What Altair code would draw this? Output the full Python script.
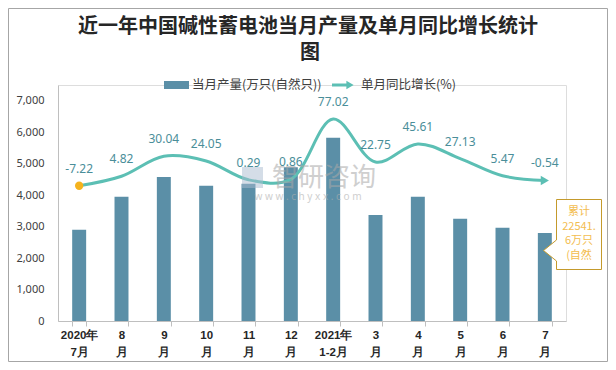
import altair as alt
import pandas as pd

months = ["2020年|7月", "8|月", "9|月", "10|月", "11|月", "12|月",
          "2021年|1-2月", "3|月", "4|月", "5|月", "6|月", "7|月"]
output = [2900, 3950, 4580, 4300, 4360, 4890, 5820, 3370, 3950, 3250, 2960, 2800]
growth = [-7.22, 4.82, 30.04, 24.05, 0.29, 0.86, 77.02, 22.75, 45.61, 27.13, 5.47, -0.54]
growth_labels = ["-7.22", "4.82", "30.04", "24.05", "0.29", "0.86", "77.02",
                 "22.75", "45.61", "27.13", "5.47", "-0.54"]

title_line1 = "近一年中国碱性蓄电池当月产量及单月同比增长统计"
title_line2 = "图"
legend_bar = "当月产量(万只(自然只))"
legend_line = "单月同比增长(%)"
callout_lines = ["累计", "22541.", "6万只", "(自然"]
y_ticks = [0, 1000, 2000, 3000, 4000, 5000, 6000, 7000]

BAR = "#5b8fa7"
LINE = "#5cbfb4"
LABEL = "#4a8e99"
GOLD = "#c49a2c"
CJK = "Noto Sans CJK SC"

df = pd.DataFrame({"month": months, "output": output, "growth": growth,
                   "glabel": growth_labels})
one = pd.DataFrame({"a": [0]})

x_enc = alt.X("month:N", sort=months, title=None,
              scale=alt.Scale(paddingInner=0.67, paddingOuter=0.335),
              axis=alt.Axis(labelExpr="split(datum.label, '|')", labelAngle=0,
                            labelFont="Liberation Sans", labelFontWeight="bold",
                            labelFontSize=11.5, labelColor="#262626",
                            labelLineHeight=17, labelPadding=3,
                            tickBand="extent", tickSize=5, tickColor="#bfbfbf",
                            domainColor="#bfbfbf", grid=False))

gscale = alt.Scale(domain=[-178, 120])

base = alt.Chart(df)

bars = base.mark_bar(color=BAR).encode(
    x=x_enc,
    y=alt.Y("output:Q", title=None,
            scale=alt.Scale(domain=[0, 7500], nice=False),
            axis=alt.Axis(values=y_ticks, format=",.0f", grid=False, ticks=False,
                          domainColor="#bfbfbf", labelColor="#404040",
                          labelFont="Noto Sans", labelFontSize=11,
                          labelPadding=14)),
)

line = base.mark_line(interpolate="catmull-rom", color=LINE, strokeWidth=3).encode(
    x=alt.X("month:N", sort=months),
    y=alt.Y("growth:Q", scale=gscale, axis=None),
)

start_pt = base.transform_filter(alt.datum.month == months[0]).mark_point(
    shape="circle", filled=True, size=70, color="#f5b31e", opacity=1
).encode(x=alt.X("month:N", sort=months),
         y=alt.Y("growth:Q", scale=gscale, axis=None))

end_pt = base.transform_filter(alt.datum.month == months[-1]).mark_point(
    shape="triangle-right", filled=True, size=90, color=LINE, opacity=1
).encode(x=alt.X("month:N", sort=months),
         y=alt.Y("growth:Q", scale=gscale, axis=None))

labels = base.mark_text(dy=-17, color=LABEL, font="Noto Sans", fontSize=12).encode(
    x=alt.X("month:N", sort=months),
    y=alt.Y("growth:Q", scale=gscale, axis=None),
    text="glabel:N",
)

ann = alt.Chart(one)

# title (two lines, as wrapped in the original)
t1 = ann.mark_text(align="center", baseline="middle", font=CJK, fontSize=20,
                   fontWeight="bold", color="#262626", text=title_line1).encode(
    x=alt.value(250), y=alt.value(-58))
t2 = ann.mark_text(align="center", baseline="middle", font=CJK, fontSize=20,
                   fontWeight="bold", color="#262626", text=title_line2).encode(
    x=alt.value(252), y=alt.value(-32))

# legend
leg_rect = ann.mark_rect(color=BAR).encode(
    x=alt.value(106), x2=alt.value(131), y=alt.value(-4), y2=alt.value(4))
leg_t1 = ann.mark_text(align="left", baseline="middle", font=CJK, fontSize=12.5,
                       color="#404040", text=legend_bar).encode(
    x=alt.value(134), y=alt.value(0))
leg_rule = ann.mark_rule(color=LINE, strokeWidth=3).encode(
    x=alt.value(274), x2=alt.value(291), y=alt.value(0))
leg_arrow = ann.mark_point(shape="triangle-right", filled=True, size=70,
                           color=LINE, opacity=1).encode(
    x=alt.value(292), y=alt.value(0))
leg_t2 = ann.mark_text(align="left", baseline="middle", font=CJK, fontSize=12.5,
                       color="#404040", text=legend_line).encode(
    x=alt.value(303), y=alt.value(0))

# callout
box = ann.mark_rect(fill="white", stroke=GOLD, strokeWidth=1).encode(
    x=alt.value(498.5), x2=alt.value(543.5), y=alt.value(114.5), y2=alt.value(184.5))
notch_cover = ann.mark_rule(color="white", strokeWidth=2.5).encode(
    x=alt.value(498.5), y=alt.value(155), y2=alt.value(176))
pointer = ann.mark_point(shape="M 0 -0.81 L -1 0 L 0 0.81", size=676, fill="white",
                         stroke=GOLD, strokeWidth=1, opacity=1, fillOpacity=1).encode(
    x=alt.value(498.5), y=alt.value(165.5))
callout_layers = []
for i, txt in enumerate(callout_lines):
    callout_layers.append(
        ann.mark_text(align="center", baseline="middle", font=CJK, fontSize=11,
                      color="#f3bd50", text=txt).encode(
            x=alt.value(521), y=alt.value(127 + 14.5 * i)))

# watermark
wm1 = ann.mark_text(align="center", baseline="middle", font=CJK, fontSize=26,
                    color="#a8a8a8", opacity=0.55, text="智研咨询").encode(
    x=alt.value(266), y=alt.value(93))
wm_logo = ann.mark_rect(color="#a9bcd0", opacity=0.5).encode(
    x=alt.value(184), x2=alt.value(205), y=alt.value(82), y2=alt.value(103))
wm2 = ann.mark_text(align="center", baseline="middle", font="Noto Sans", fontSize=10,
                    color="#b0b0b0", opacity=0.6,
                    text="w w w . c h y x x . c o m").encode(
    x=alt.value(250), y=alt.value(112))

frame = ann.mark_rect(fillOpacity=0, stroke="#a6a6a6", strokeWidth=1).encode(
    x=alt.value(-49.5), x2=alt.value(549.5), y=alt.value(-76.5), y2=alt.value(276.5))

chart = alt.layer(
    frame, t1, t2, bars, line, start_pt, end_pt, labels,
    leg_rect, leg_t1, leg_rule, leg_arrow, leg_t2,
    wm_logo, wm1, wm2,
    box, notch_cover, pointer, *callout_layers,
).resolve_scale(y="independent").properties(
    width=508, height=236,
    autosize=alt.AutoSizeParams(type="none"),
    padding={"left": 50, "top": 77, "right": 42, "bottom": 41},
).configure_view(stroke=None).configure(background="white")

chart.save("out.html", embed_options={"renderer": "svg", "actions": False})
